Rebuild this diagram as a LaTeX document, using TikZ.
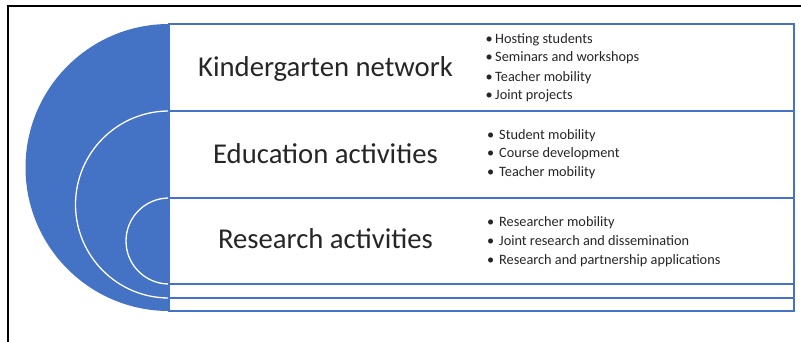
\documentclass[tikz,border=0pt]{standalone}
\usepackage{fontspec}
\setmainfont{Carlito}
\definecolor{offblue}{HTML}{4472C4}
\definecolor{txt}{HTML}{262626}
\begin{document}
\begin{tikzpicture}[x=1pt,y=-1pt,
  disc/.style={fill=offblue, draw=white, line width=1.3pt},
  band/.style={fill=white, draw=offblue, line width=1.4pt},
  title/.style={font=\fontsize{28.7}{32}\selectfont, text=txt, anchor=base, inner sep=0pt},
  item/.style={font=\fontsize{14.3}{16}\selectfont, text=txt, anchor=base west, inner sep=0pt},
  dot/.style={font=\fontsize{14.3}{16}\selectfont, text=txt, anchor=base, inner sep=0pt}]
\useasboundingbox (0,0) rectangle (801,342);
% frame
\draw[line width=2pt] (7.8,342) -- (7.8,6.2) -- (801,6.2);
% discs
\fill[offblue] (169,24) arc[start angle=90,end angle=270,radius=143.5pt] -- cycle;
\draw[disc] (169,111) arc[start angle=90,end angle=270,radius=93.5pt] -- cycle;
\draw[disc] (169,198) arc[start angle=90,end angle=270,radius=43pt] -- cycle;
% bands
\draw[band] (169,24) rectangle (794,311);
\draw[band] (169,111) rectangle (794,298);
\draw[band] (169,198) rectangle (794,284);
% titles
\node[title] (kg) at (325.5,76.3) {Kindergarten network};
\node[title] (ed) at (325.5,163.3) {Education activities};
\node[title] (re) at (325.5,248.5) {Research activities};
% group 1
\foreach \y/\t [count=\i] in {44/Hosting students,62/Seminars and workshops,81.3/Teacher mobility,99.7/Joint projects}{
  \node[dot] (ka\i) at (489.3,\y) {\textbullet};
  \node[item] (kb\i) at (495,\y) {\t};
}
% group 2
\foreach \y/\t [count=\i] in {140/Student mobility,158/Course development,176.7/Teacher mobility}{
  \node[dot] (ea\i) at (490.7,\y) {\textbullet};
  \node[item] (eb\i) at (499,\y) {\t};
}
% group 3
\foreach \y/\t [count=\i] in {226.7/Researcher mobility,245/Joint research and dissemination,264/Research and partnership applications}{
  \node[dot] (ra\i) at (490.7,\y) {\textbullet};
  \node[item] (rb\i) at (499,\y) {\t};
}
\end{tikzpicture}
\end{document}
